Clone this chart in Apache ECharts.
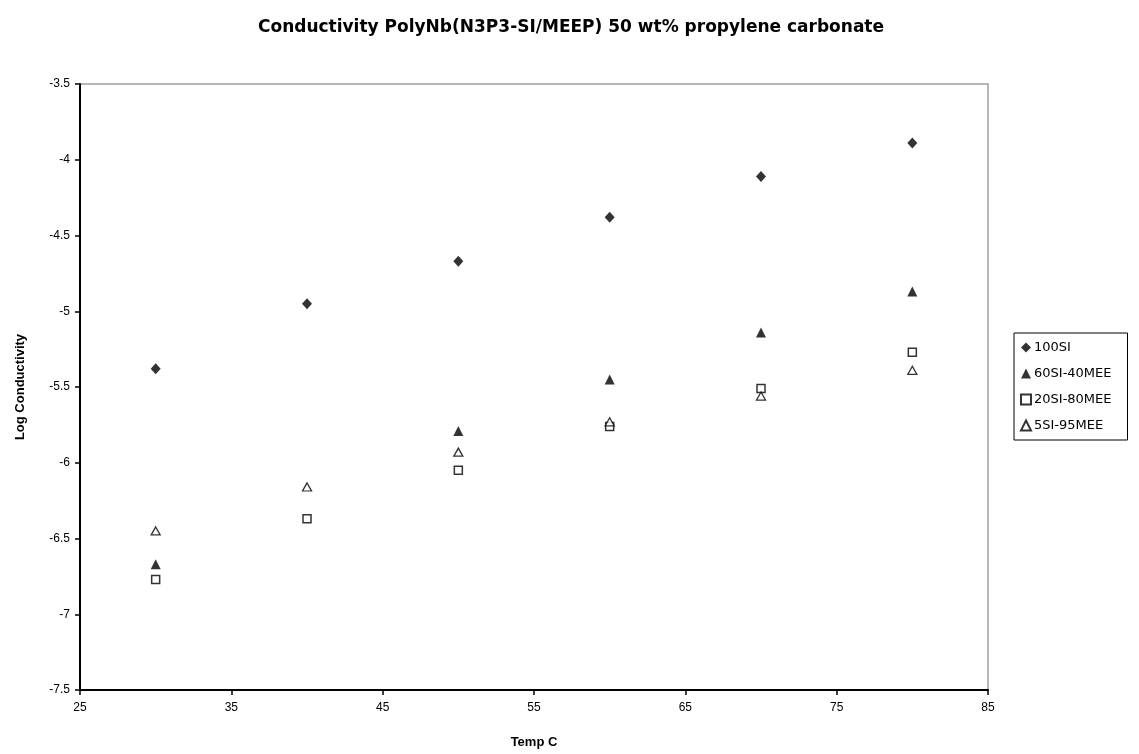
<!DOCTYPE html>
<html>
<head>
<meta charset="utf-8">
<script src="https://cdn.jsdelivr.net/npm/echarts@6/dist/echarts.min.js"></script>
<style>
  html, body { margin: 0; padding: 0; background: #fff; }
  #chart { width: 1139px; height: 754px; }
</style>
</head>
<body>
<div id="chart"></div>
<script>
// Temperatures (°C) and log conductivity for each composition
const temps = [30, 40, 50, 60, 70, 80];
const si100 = [-5.38, -4.95, -4.67, -4.38, -4.11, -3.89];
const si60mee40 = [-6.67, null, -5.79, -5.45, -5.14, -4.87];
const si20mee80 = [-6.77, -6.37, -6.05, -5.76, -5.51, -5.27];
const si5mee95 = [-6.45, -6.16, -5.93, -5.73, -5.56, -5.39];

const seriesNames = ['100SI', '60SI-40MEE', '20SI-80MEE', '5SI-95MEE'];

function pairs(ys) {
  const out = [];
  temps.forEach((t, i) => { if (ys[i] !== null) out.push([t, ys[i]]); });
  return out;
}

const FONT = '"Liberation Sans", Arial, sans-serif';
const WIDE = '"DejaVu Sans", sans-serif';

const chart = echarts.init(document.getElementById('chart'), null, { renderer: 'canvas' });

chart.setOption({
  backgroundColor: '#ffffff',
  animation: false,
  title: {
    text: 'Conductivity PolyNb(N3P3-SI/MEEP) 50 wt% propylene carbonate',
    left: 566,
    textAlign: 'center',
    top: 14,
    textStyle: { fontFamily: WIDE, fontSize: 17, fontWeight: 'bold', color: '#000' }
  },
  grid: {
    left: 80, right: 151, top: 84, bottom: 64,
    show: true, borderColor: '#a0a0a0', borderWidth: 1.5, backgroundColor: '#fff'
  },
  legend: {
    orient: 'vertical',
    left: 1014, top: 333,
    padding: [8, 16, 8, 6],
    borderColor: '#000', borderWidth: 1,
    itemWidth: 10, itemHeight: 10, itemGap: 13,
    textStyle: { fontFamily: WIDE, fontSize: 13, color: '#000', padding: [0, 0, 0, -2] },
    data: seriesNames
  },
  xAxis: {
    type: 'value', min: 25, max: 85, interval: 10,
    name: 'Temp C', nameLocation: 'middle', nameGap: 46,
    nameTextStyle: { fontFamily: FONT, fontSize: 13, fontWeight: 'bold', color: '#000' },
    axisLine: { show: true, lineStyle: { color: '#000', width: 2 } },
    axisTick: { show: true, length: 5, lineStyle: { color: '#000', width: 1.5 } },
    axisLabel: { fontFamily: FONT, fontSize: 12, color: '#000', margin: 12 },
    splitLine: { show: false }
  },
  yAxis: {
    type: 'value', min: -7.5, max: -3.5, interval: 0.5,
    name: 'Log Conductivity', nameLocation: 'middle', nameGap: 53, nameRotate: 90,
    nameTextStyle: { fontFamily: FONT, fontSize: 13, fontWeight: 'bold', color: '#000' },
    axisLine: { show: true, onZero: false, lineStyle: { color: '#000', width: 2 } },
    axisTick: { show: true, length: 5, lineStyle: { color: '#000', width: 1.5 } },
    axisLabel: { fontFamily: FONT, fontSize: 12, color: '#000', margin: 10 },
    splitLine: { show: false }
  },
  series: [
    {
      name: seriesNames[0], type: 'scatter', data: pairs(si100),
      symbol: 'diamond', symbolSize: [10, 11],
      itemStyle: { color: '#000' }
    },
    {
      name: seriesNames[1], type: 'scatter', data: pairs(si60mee40),
      symbol: 'triangle', symbolSize: [10, 10],
      itemStyle: { color: '#000' }
    },
    {
      name: seriesNames[2], type: 'scatter', data: pairs(si20mee80),
      symbol: 'rect', symbolSize: 8,
      itemStyle: { color: '#fff', borderColor: '#000', borderWidth: 1.5 }
    },
    {
      name: seriesNames[3], type: 'scatter', data: pairs(si5mee95),
      symbol: 'triangle', symbolSize: [9, 8],
      itemStyle: { color: '#fff', borderColor: '#000', borderWidth: 1.3 }
    }
  ]
});
</script>
</body>
</html>
